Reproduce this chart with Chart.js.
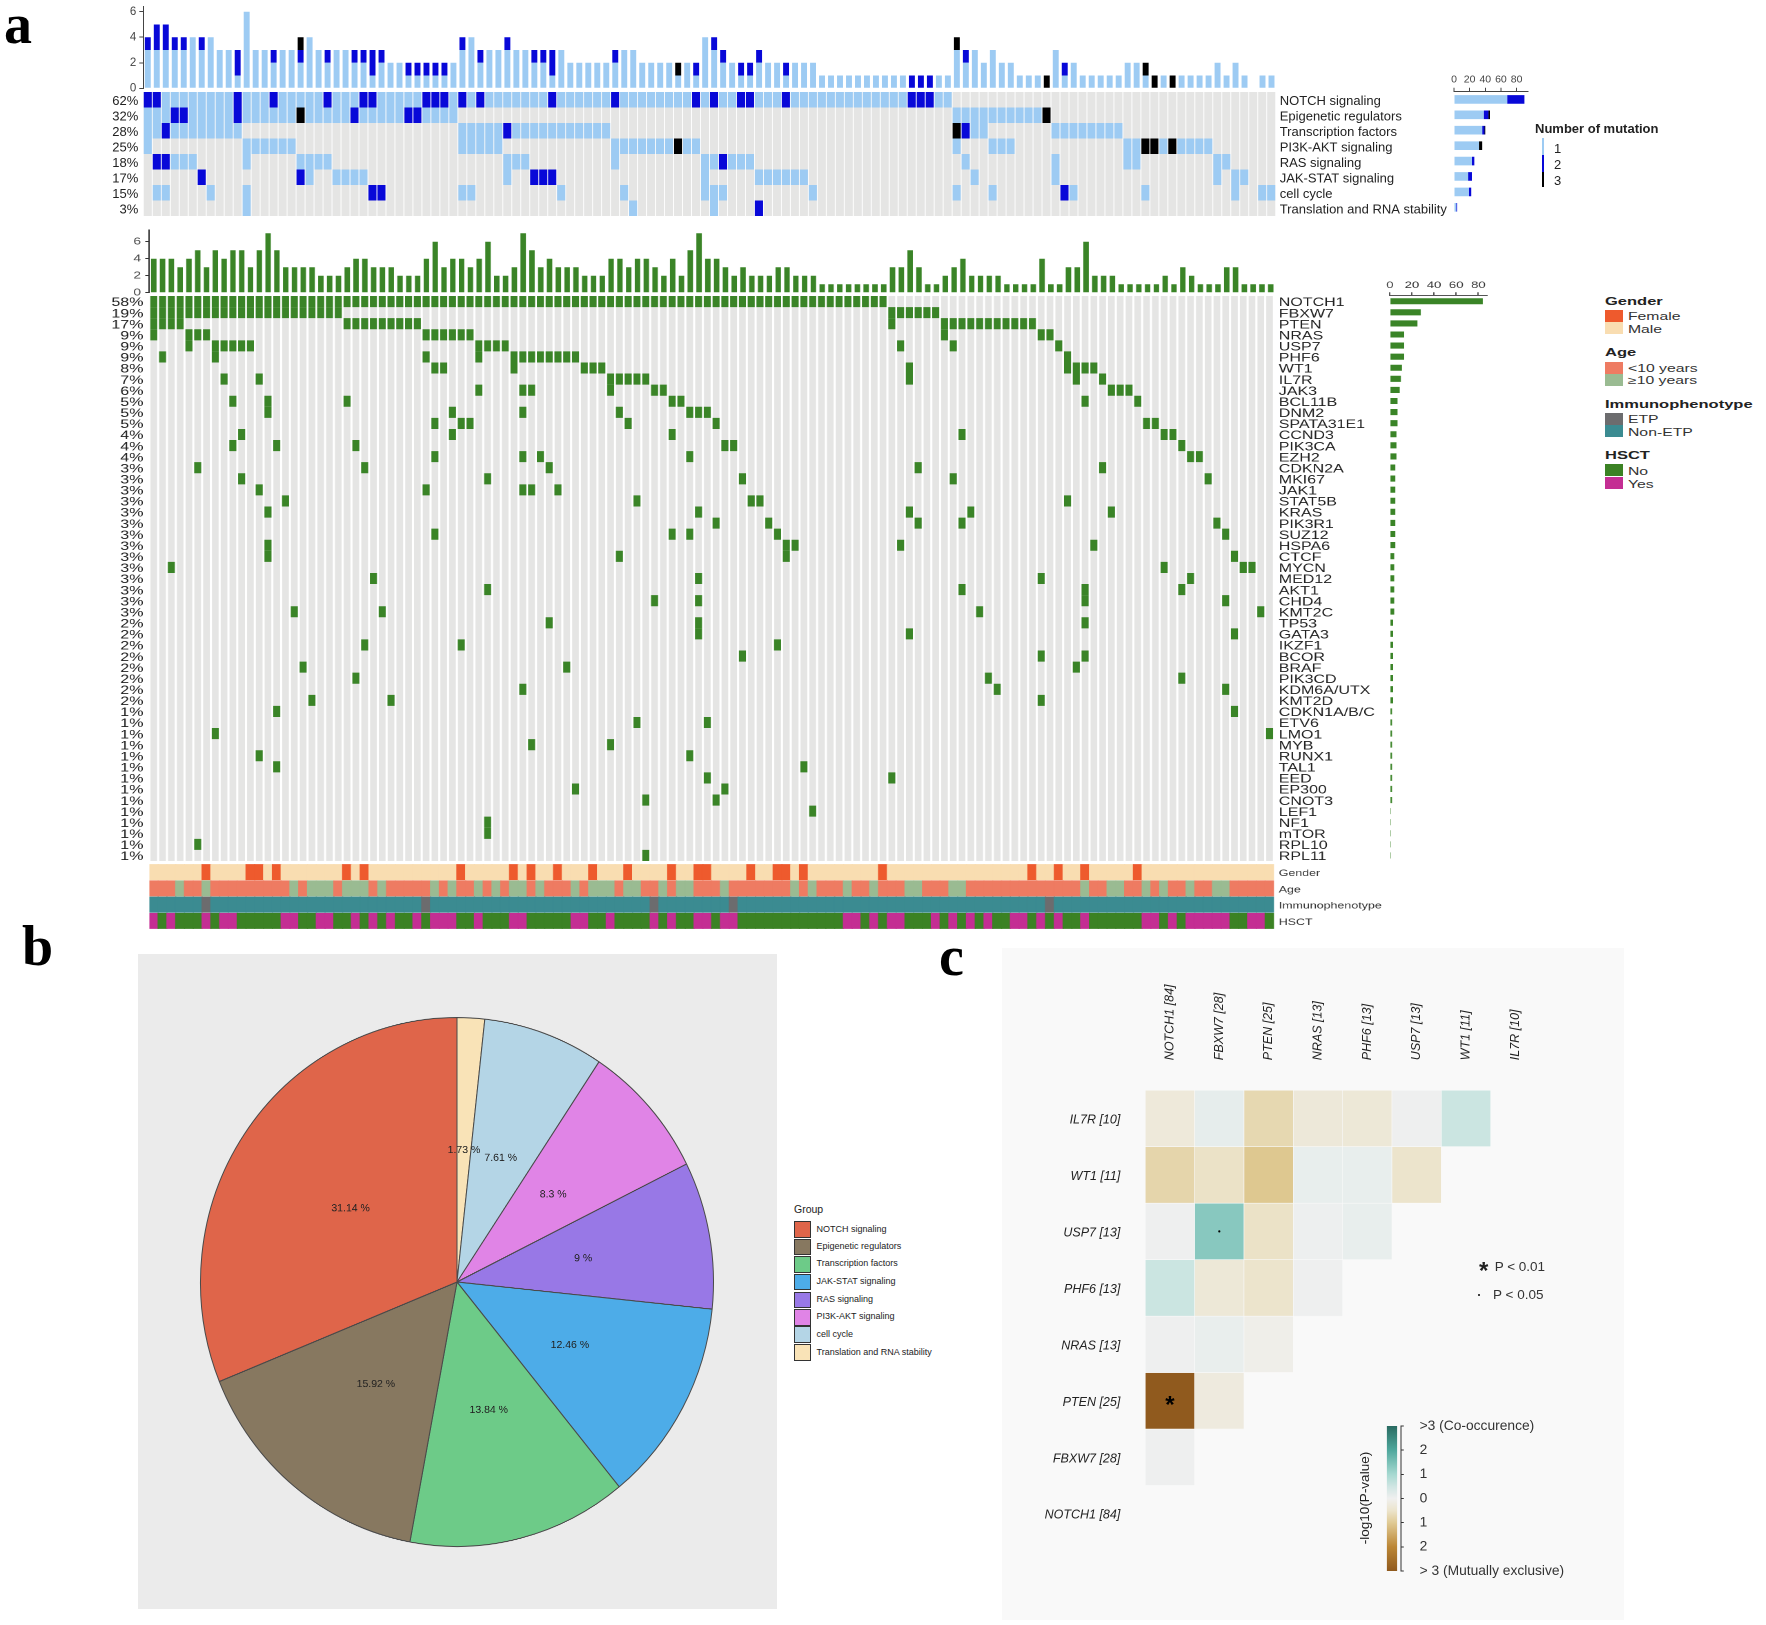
<!DOCTYPE html>
<html>
<head>
<meta charset="utf-8">
<title>Mutation landscape</title>
<script src="https://cdn.jsdelivr.net/npm/chart.js@4/dist/chart.umd.js"></script>
<style>
body{margin:0;background:#fff;width:1766px;height:1625px;position:relative;overflow:hidden;font-family:"Liberation Sans",Arial,sans-serif;color:#222}
.t{position:absolute;white-space:nowrap;line-height:1}
.box{position:absolute}
.wrap{position:absolute;left:0;top:0;width:0;height:0;transform-origin:0 0}
.letter{position:absolute;font:bold 56px/56px "Liberation Serif",serif;color:#000}
</style>
</head>
<body>
<script>
// ---- panel a, pathways (126 patients, columns as ranges)
const pathwayNames = ['NOTCH signaling','Epigenetic regulators','Transcription factors','PI3K-AKT signaling','RAS signaling','JAK-STAT signaling','cell cycle','Translation and RNA stability'];
const pathwayPercent = ['62%','32%','28%','25%','18%','17%','15%','3%'];
const pathwayHits = [
  '0-89',
  '0-34,90-100',
  '0-10,35-51,90-93,101-108',
  '0,11-16,35-39,52-61,90,94-96,109-118',
  '1-5,11,17-20,40-42,52,62-67,91,101,109,110,119,120',
  '6,17,18,21-24,40,43-45,62,68-73,92,101,119,121,122',
  '1,2,7,11,25,26,35,36,46,53,62-64,74,90,94,102,103,111,121,124,125',
  '11,54,63,68'
];
const pathwayLevel2 = ['0,1,10,14,20,24,25,31,32,33,35,37,45,52,61,63,66,67,71,85,86,87','3,4,10,23,29,30','2,40,91','','1,2,64','6,17,43,44,45','25,26,102','68'];
const pathwayLevel3 = ['','17,100','90','59,111,112,114','','','',''];
const pathwayColumns = 126;

// ---- panel a, genes (128 patients)
const geneNames = ['NOTCH1','FBXW7','PTEN','NRAS','USP7','PHF6','WT1','IL7R','JAK3','BCL11B','DNM2','SPATA31E1','CCND3','PIK3CA','EZH2','CDKN2A','MKI67','JAK1','STAT5B','KRAS','PIK3R1','SUZ12','HSPA6','CTCF','MYCN','MED12','AKT1','CHD4','KMT2C','TP53','GATA3','IKZF1','BCOR','BRAF','PIK3CD','KDM6A/UTX','KMT2D','CDKN1A/B/C','ETV6','LMO1','MYB','RUNX1','TAL1','EED','EP300','CNOT3','LEF1','NF1','mTOR','RPL10','RPL11'];
const genePercent = ['58%','19%','17%','9%','9%','9%','8%','7%','6%','5%','5%','5%','4%','4%','4%','3%','3%','3%','3%','3%','3%','3%','3%','3%','3%','3%','3%','3%','3%','2%','2%','2%','2%','2%','2%','2%','2%','1%','1%','1%','1%','1%','1%','1%','1%','1%','1%','1%','1%','1%','1%'];
const geneHits = ['0-83','0-21,84-89','0-3,22-30,84,90-100','0,4,5,6,31-36,90,101,102','4,7-11,37-40,85,91,103','1,7,31,37,41-48,104','32,33,41,49,50,51,86,104-107','8,12,52-56,86,105,108','37,42,43,52,57,58,109,110,111','9,13,22,59,60,106,112','13,34,42,53,61,62,63','32,35,36,54,64,113,114','10,34,59,92,115,116','9,14,23,65,66,117','32,42,44,61,118,119','5,24,45,87,108','10,38,67,91,120','12,31,42,43,46','15,55,68,69,104','13,62,86,93,109','64,70,87,92,121','32,59,61,71,122','13,72,73,85,107','13,53,72,123','2,115,124,125','25,62,101,118','38,92,106,117','57,62,106,122','16,26,94,126','45,62,106','62,86,123','24,35,71','67,101,106','17,47,105','23,95,117','42,96,122','18,27,101','14,123','55,63','7,127','43,52','12,61','14,74','63,84','48,65','56,64','75','38','38','5','56'];
const geneColumns = 128;

const trackNames = ['Gender','Age','Immunophenotype','HSCT'];
const genderFemale = '6,11,12,14,22,24,35,41,43,46,50,54,59,62,63,68,71,72,74,83,100,103,106,112';
const ageOver10 = '3,6,16,18-20,22-24,26,32,34,37,39,41,42,44,48,50-52,54,55,58,60,61,65,73,75,79,82,86,87,91,92,106,109,110,113,115,118,121,122';
const immunoEtp = '6,31,57,66,102';
const hsctYes = '0,2,6,8,9,15,16,19,20,23,25,27,30,32-34,37,41,42,48,49,52,57,59,62,63,65,66,79,80,82,84,85,89,91,93,95,98,99,101,103,106,113,114,116,118-122,125,126';

// ---- panel b
const pieGroups = ['NOTCH signaling','Epigenetic regulators','Transcription factors','JAK-STAT signaling','RAS signaling','PI3K-AKT signaling','cell cycle','Translation and RNA stability'];
const pieValues = [31.14,15.92,13.84,12.46,9,8.3,7.61,1.73];
const pieColors = ['#DF654A','#877860','#6DCB88','#4DACE8','#9878E6','#E084E6','#B4D5E6','#F9E3B7'];

// ---- panel c
const heatRowLabels = ['IL7R [10]','WT1 [11]','USP7 [13]','PHF6 [13]','NRAS [13]','PTEN [25]','FBXW7 [28]','NOTCH1 [84]'];
const heatColLabels = ['NOTCH1 [84]','FBXW7 [28]','PTEN [25]','NRAS [13]','PHF6 [13]','USP7 [13]','WT1 [11]','IL7R [10]'];
const heatValues = [
  [-0.3,0.15,-0.75,-0.32,-0.35,0.03,0.55],
  [-0.8,-0.55,-1.05,0.12,0.12,-0.5],
  [0.03,1.35,-0.55,0.05,0.12],
  [0.55,-0.35,-0.5,0.03],
  [0.03,0.1,-0.1],
  [-3,-0.25],
  [0.03],
  []
];
const heatStars = [[5,0]];
const heatDots = [[2,1]];
const barTickLabels = ['> 3 (Mutually exclusive)','2','1','0','1','2','>3 (Co-occurence)'];
const barStops = [[-3,'#905A1E'],[-2,'#BC8736'],[-1,'#E0CB95'],[-0.5,'#ECE4CC'],[0,'#F0F0F0'],[0.5,'#CFE6E3'],[1,'#A6D9D1'],[2,'#4FA89D'],[3,'#2A6B62']];

const GREY = '#E5E5E4', LIGHT = '#9DCBF3', BLUE = '#0808D8', BLACK = '#000', GREEN = '#3A8427';
const S2 = 1.38;   // the gene panel text is wider than tall in the figure

Chart.defaults.font.family = '"Liberation Sans",Arial,sans-serif';

function parseCols(str){
  const out = [];
  if(!str) return out;
  str.split(',').forEach(p=>{
    const [a,b] = p.split('-').map(Number);
    for(let i=a;i<=(b===undefined?a:b);i++) out.push(i);
  });
  return out;
}

function addEl(parent, cls, css, text){
  const e = document.createElement('div');
  e.className = cls; e.style.cssText = css;
  if(text!==undefined) e.textContent = text;
  parent.appendChild(e);
  return e;
}

function mk(parent, x, y, w, h, cfg, sx=1){
  const c = document.createElement('canvas');
  c.style.position = 'absolute';
  c.style.left = (x/sx)+'px'; c.style.top = y+'px';
  c.width = Math.ceil(w/sx); c.height = h;
  parent.appendChild(c);
  const o = cfg.options = cfg.options || {};
  o.responsive = false; o.animation = false; o.devicePixelRatio = 2;
  o.plugins = Object.assign({legend:{display:false},tooltip:{enabled:false}}, o.plugins||{});
  o.layout = Object.assign({autoPadding:false}, o.layout||{});
  return new Chart(c, cfg);
}

// axes get a fixed size, and must not push the plot area in for their labels
const noPad = s => { s.paddingTop = s.paddingBottom = s.paddingLeft = s.paddingRight = 0; };
const fixW = v => s => { s.width = v; noPad(s); };
const fixH = v => s => { s.height = v; noPad(s); };
const indexCols = n => Array.from({length:n},(_,i)=>i);
function textAxis(position, labels, width, font, padding, color){
  return {type:'category', position, labels, offset:true, afterFit:fixW(width),
    grid:{display:false,drawTicks:false}, border:{display:false},
    ticks:{autoSkip:false,font,padding,color:color||'#222',maxRotation:0,minRotation:0,labelOffset:1.5}};
}
function countAxis(max, width, font, tick, color){
  return {min:0,max,afterFit:fixW(width),grid:{drawOnChartArea:false,tickLength:tick,tickColor:color},
    border:{color},ticks:{autoSkip:false,includeBounds:false,stepSize:2,font,color:'#444',padding:3}};
}

// ---- panel letters
addEl(document.body,'letter','left:4px;top:-4px','a');
addEl(document.body,'letter','left:22px;top:918px','b');
addEl(document.body,'letter','left:939px;top:928px','c');

// ---- a1: pathway oncoprint
const levels = pathwayHits.map((h,r)=>{
  const lv = new Array(pathwayColumns).fill(0);
  parseCols(h).forEach(c=>lv[c]=1);
  parseCols(pathwayLevel2[r]).forEach(c=>lv[c]=2);
  parseCols(pathwayLevel3[r]).forEach(c=>lv[c]=3);
  return lv;
});
const levelColor = [null,LIGHT,BLUE,BLACK];
const colCount = lv => indexCols(pathwayColumns).map(c=>levels.filter(row=>row[c]===lv).length);

const a1x0 = 143.3, a1x1 = 1275.7;
mk(document.body,100,0,a1x1-100,95,{type:'bar',
  data:{labels:indexCols(pathwayColumns),datasets:[1,2,3].map(lv=>({data:colCount(lv),backgroundColor:levelColor[lv],barPercentage:0.66,categoryPercentage:1}))},
  options:{layout:{padding:{top:6.6,bottom:6.7}},scales:{
    x:{display:false,stacked:true,offset:true},
    y:Object.assign(countAxis(6.4,a1x0-100,{size:11.5},4,'#444'),{stacked:true})
  }}});

mk(document.body,100,91.7,1450-100,124,{type:'bar',
  data:{labels:indexCols(pathwayColumns),datasets:[
    {data:indexCols(pathwayColumns).map(()=>[0,8]),backgroundColor:GREY,grouped:false,barPercentage:0.9,categoryPercentage:1,order:2},
    ...levels.map((row,r)=>({data:row.map(v=>v?[r,r+1]:null),backgroundColor:row.map(v=>levelColor[v]||GREY),grouped:false,barPercentage:0.9,categoryPercentage:1,order:1}))
  ]},
  options:{scales:{
    x:{display:false,offset:true},
    y:{display:false,min:0,max:8,reverse:true},
    yLeft:textAxis('left',pathwayPercent,a1x0-100,{size:13},5),
    yRight:textAxis('right',pathwayNames,1450-a1x1,{size:13},4)
  }}});

// total per pathway
mk(document.body,1440,70,100,145.7,{type:'bar',
  data:{labels:pathwayNames,datasets:[1,2,3].map(lv=>({data:levels.map(row=>row.filter(v=>v===lv).length),backgroundColor:levelColor[lv],barPercentage:0.56,categoryPercentage:1}))},
  options:{indexAxis:'y',layout:{padding:{left:14,right:12}},scales:{
    x:{position:'top',stacked:true,min:0,max:94.6,afterFit:fixH(21.7),grid:{drawOnChartArea:false,tickLength:4,tickColor:'#444'},border:{color:'#444'},
      ticks:{autoSkip:false,includeBounds:false,stepSize:20,font:{size:10.5},color:'#444',padding:2,maxRotation:0}},
    y:{display:false,stacked:true,offset:true}
  }}});

addEl(document.body,'t','left:1535px;top:121.5px;font-weight:bold;font-size:13px','Number of mutation');
[[LIGHT,138.3,16.7,'1',148],[BLUE,155,16.7,'2',164],[BLACK,171.7,15.3,'3',180]].forEach(l=>{
  addEl(document.body,'box',`left:1542.3px;top:${l[1]}px;width:1.4px;height:${l[2]}px;background:${l[0]}`);
  addEl(document.body,'t',`left:1554px;top:${l[4]-6.5}px;font-size:13px`,l[3]);
});

// ---- a2: gene oncoprint, everything in here is stretched
const geneWrap = addEl(document.body,'wrap',`transform:scaleX(${S2})`);
const a2x0 = 150, a2x1 = 1274.6;
const geneCols = geneHits.map(parseCols);
const colTotals = indexCols(geneColumns).map(c=>geneCols.filter(g=>g.includes(c)).length);

mk(geneWrap,100,225,a2x1-100,72,{type:'bar',
  data:{labels:indexCols(geneColumns),datasets:[{data:colTotals,backgroundColor:GREEN,barPercentage:0.62,categoryPercentage:1}]},
  options:{layout:{padding:{top:5,bottom:4.3}},scales:{
    x:{display:false,offset:true},
    y:countAxis(7.376,(a2x0-100)/S2,{size:10},3,'#333')
  }}},S2);

const a2W = Math.ceil((1380-100)/S2);
mk(geneWrap,100,295.7,1380-100,565.3,{type:'bar',
  data:{labels:indexCols(geneColumns),datasets:[
    {data:indexCols(geneColumns).map(()=>[0,geneNames.length]),backgroundColor:GREY,grouped:false,barPercentage:0.76,categoryPercentage:1,order:2},
    ...geneCols.map((cols,r)=>({data:indexCols(geneColumns).map(c=>cols.includes(c)?[r,r+1]:null),backgroundColor:GREEN,grouped:false,barPercentage:0.8,categoryPercentage:1,order:1}))
  ]},
  options:{scales:{
    x:{display:false,offset:true},
    y:{display:false,min:0,max:geneNames.length,reverse:true},
    yLeft:textAxis('left',genePercent,(a2x0-100)/S2,{size:11.6},4.3),
    yRight:textAxis('right',geneNames,a2W-(a2x1-100)/S2,{size:11.6},3.5)
  }}},S2);

// total per gene
mk(geneWrap,1375,270,125,591,{type:'bar',
  data:{labels:geneNames,datasets:[{data:geneCols.map(g=>g.length),backgroundColor:GREEN,barPercentage:0.55,categoryPercentage:1}]},
  options:{indexAxis:'y',layout:{padding:{left:(1390.3-1375)/S2,right:(1500-1487)/S2}},scales:{
    x:{position:'top',min:0,max:87.9,afterFit:fixH(25.7),grid:{drawOnChartArea:false,tickLength:3.5,tickColor:'#555'},border:{color:'#555'},
      ticks:{autoSkip:false,includeBounds:false,stepSize:20,font:{size:9.5},color:'#333',padding:1,maxRotation:0}},
    y:{display:false,offset:true}
  }}},S2);

// clinical tracks
const trackDefs = [[genderFemale,'#EE5A2D','#F9DDB1'],[ageOver10,'#9ABB92','#EE7B62'],[immunoEtp,'#6C6C6E','#3B8B91'],[hsctYes,'#C42E93','#3B8224']];
const trackW = Math.ceil((1400-100)/S2);
mk(geneWrap,100,863.5,1400-100,65.8,{type:'bar',
  data:{labels:indexCols(geneColumns),datasets:trackDefs.map((d,r)=>{
    const on = parseCols(d[0]);
    return {data:indexCols(geneColumns).map(()=>[r+0.03,r+0.97]),backgroundColor:indexCols(geneColumns).map(c=>on.includes(c)?d[1]:d[2]),grouped:false,barPercentage:1,categoryPercentage:1,inflateAmount:0.4};
  })},
  options:{scales:{
    x:{display:false,offset:true},
    y:{display:false,min:0,max:4,reverse:true},
    yLeft:textAxis('left',['','','',''],(a2x0-100)/S2,{size:9},3),
    yRight:textAxis('right',trackNames,trackW-(a2x1-100)/S2,{size:9},3.5,'#333')
  }}},S2);

// clinical legend
const S3 = 1.5;
const legendWrap = addEl(document.body,'wrap',`transform:scaleX(${S3})`);
const legendGroups = [
  ['Gender',301,[['Female','#EE5A2D',310,316],['Male','#F9DDB1',322,328.7]]],
  ['Age',352.7,[['<10 years','#EE7B62',361.7,368],['≥10 years','#9ABB92',373.9,380.6]]],
  ['Immunophenotype',404,[['ETP','#6C6C6E',413.3,419],['Non-ETP','#3B8B91',425.2,432]]],
  ['HSCT',455,[['No','#3B8224',464,471],['Yes','#C42E93',476.5,484]]]
];
legendGroups.forEach(g=>{
  addEl(legendWrap,'t',`left:${1605/S3}px;top:${g[1]-5.5}px;font-weight:bold;font-size:11px`,g[0]);
  g[2].forEach(i=>{
    addEl(legendWrap,'box',`left:${1605/S3}px;top:${i[2]}px;width:${18/S3}px;height:12.3px;background:${i[1]}`);
    addEl(legendWrap,'t',`left:${1628/S3}px;top:${i[3]-5.2}px;font-size:10.5px;color:#333`,i[0]);
  });
});

// ---- b: pie, the figure draws it slightly taller than wide
addEl(document.body,'box','left:138px;top:954px;width:639.4px;height:655px;background:#EBEBEB');
const pieWrap = addEl(document.body,'box','left:197.4px;top:1021.6px;width:520px;height:520px;transform:scaleY(1.031);transform-origin:50% 50%');
const pieText = {id:'pieText',afterDatasetsDraw(ch){
  const ctx = ch.ctx, vals = ch.data.datasets[0].data;
  ctx.save();
  ctx.font = '10.5px "Liberation Sans"'; ctx.fillStyle = '#222'; ctx.textAlign = 'center'; ctx.textBaseline = 'middle';
  ch.getDatasetMeta(0).data.forEach((arc,i)=>{ const p = arc.getCenterPoint(); ctx.fillText(vals[i]+' %',p.x,p.y); });
  ctx.restore();
}};
// the figure runs counter-clockwise from 12 o'clock
mk(pieWrap,0,0,520,520,{type:'pie',
  data:{labels:[...pieGroups].reverse(),datasets:[{data:[...pieValues].reverse(),backgroundColor:[...pieColors].reverse(),borderColor:'#4a4a4a',borderWidth:1,borderAlign:'center'}]},
  options:{layout:{padding:3}},plugins:[pieText]});

addEl(document.body,'t','left:794px;top:1203.5px;font-size:10.5px','Group');
const pieLegendY = [1229,1246.6,1263.9,1281.7,1299.5,1316.8,1334.1,1352];
pieGroups.forEach((g,i)=>{
  addEl(document.body,'box',`left:794.4px;top:${pieLegendY[i]-7.8}px;width:15px;height:14.6px;background:${pieColors[i]};border:0.6px solid #333`);
  addEl(document.body,'t',`left:816.6px;top:${pieLegendY[i]-4.5}px;font-size:9px`,g);
});

// ---- c: co-occurrence triangle
addEl(document.body,'box','left:1002px;top:948px;width:622px;height:672px;background:#F9F9F9');
function hexRgb(h){ return [1,3,5].map(i=>parseInt(h.substr(i,2),16)); }
function heatColor(v){
  for(let i=1;i<barStops.length;i++){
    if(v<=barStops[i][0]){
      const a = barStops[i-1], b = barStops[i], t = (v-a[0])/(b[0]-a[0]);
      const ca = hexRgb(a[1]), cb = hexRgb(b[1]);
      return 'rgb('+ca.map((x,k)=>Math.round(x+(cb[k]-x)*t)).join(',')+')';
    }
  }
  return barStops[barStops.length-1][1];
}
const heatMarks = {id:'heatMarks',afterDatasetsDraw(ch){
  const ctx = ch.ctx, sx = ch.scales.x, sy = ch.scales.y;
  ctx.save(); ctx.fillStyle = '#000'; ctx.textAlign = 'center'; ctx.textBaseline = 'middle';
  ctx.font = 'bold 24px "Liberation Sans"';
  heatStars.forEach(m=>ctx.fillText('*',sx.getPixelForValue(m[1]),sy.getPixelForValue(m[0]+0.5)+5));
  heatDots.forEach(m=>{ ctx.beginPath(); ctx.arc(sx.getPixelForValue(m[1]),sy.getPixelForValue(m[0]+0.5),1.1,0,7); ctx.fill(); });
  ctx.restore();
}};
const heatFont = {size:12.5,style:'italic'};
const hx0 = 1020, hx1 = 1539.7, hy0 = 960;
mk(document.body,hx0,hy0,hx1-hx0+1,582.3,{type:'bar',
  data:{labels:heatColLabels,datasets:heatValues.map((vals,r)=>({
    data:vals.map(()=>[r,r+1]),backgroundColor:vals.map(heatColor),borderColor:'#FAFAFA',borderWidth:0.6,borderSkipped:false,
    grouped:false,barPercentage:1,categoryPercentage:1}))},
  options:{layout:{padding:{right:1}},scales:{
    x:{position:'top',offset:true,afterFit:fixH(1090.2-hy0),grid:{display:false,drawTicks:false},border:{display:false},
      ticks:{autoSkip:false,minRotation:90,maxRotation:90,padding:30,labelOffset:15,font:heatFont,color:'#222'}},
    y:{display:false,min:0,max:8,reverse:true},
    yLeft:textAxis('left',heatRowLabels,1145.3-hx0,heatFont,25)
  }},plugins:[heatMarks]});

// p-value key
addEl(document.body,'t','left:1479px;top:1257px;font:bold 24px "Liberation Sans"','*');
addEl(document.body,'t','left:1494.7px;top:1260px;font-size:13.5px;color:#333','P < 0.01');
addEl(document.body,'box','left:1477.8px;top:1293.7px;width:2.4px;height:2.4px;border-radius:50%;background:#000');
addEl(document.body,'t','left:1493px;top:1288px;font-size:13.5px;color:#333','P < 0.05');

// colour bar
mk(document.body,1375,1418,240,162,{type:'bar',
  data:{labels:['P'],datasets:[{data:[[-3,3]],barPercentage:0.58,categoryPercentage:1,
    backgroundColor:ctx=>{
      const a = ctx.chart.chartArea; if(!a) return '#eee';
      const g = ctx.chart.ctx.createLinearGradient(0,a.bottom,0,a.top);
      barStops.forEach(s=>g.addColorStop((s[0]+3)/6,s[1]));
      return g;
    }}]},
  options:{layout:{padding:{top:8,bottom:9,left:1383.2-1375}},scales:{
    x:{display:false,offset:true},
    y:{position:'right',min:-3,max:3,afterFit:fixW(1615-1400.8),grid:{drawOnChartArea:false,tickLength:3,tickColor:'#333'},border:{color:'#333'},
      ticks:{autoSkip:false,stepSize:1,padding:15.8,font:{size:13.8},color:'#333',callback:v=>barTickLabels[v+3]}}
  }}});
addEl(document.body,'t','left:1365px;top:1498.4px;font-size:13.5px;color:#222;transform:translate(-50%,-50%) rotate(-90deg)','-log10(P-value)');
</script>
</body>
</html>
